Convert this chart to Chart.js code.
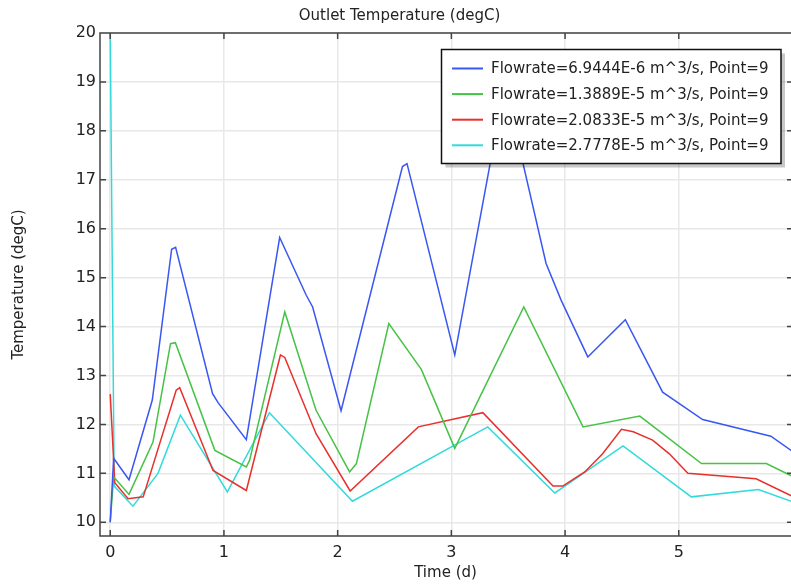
<!DOCTYPE html>
<html>
<head>
<meta charset="utf-8">
<title>Outlet Temperature</title>
<script src="https://cdn.jsdelivr.net/npm/chart.js@4.4.1/dist/chart.umd.min.js"></script>
<style>
    html, body { margin: 0; padding: 0; background: #ffffff; overflow: hidden; }
    #wrap { position: relative; width: 791px; height: 585px; }
</style>
</head>
<body>
<div id="wrap"><canvas id="lineChart"></canvas></div>
<script>
const seriesLabels = [
    'Flowrate=6.9444E-6 m^3/s, Point=9',
    'Flowrate=1.3889E-5 m^3/s, Point=9',
    'Flowrate=2.0833E-5 m^3/s, Point=9',
    'Flowrate=2.7778E-5 m^3/s, Point=9'
];
const seriesColors = ['#3a57f2', '#46c246', '#e8302c', '#33dada'];

// time (d) and outlet temperature (degC) for each flowrate
const timeBlue = [0, 0.03, 0.165, 0.37, 0.54, 0.575, 0.9, 0.95, 1.197, 1.49, 1.724, 1.78, 2.03, 2.57, 2.61, 3.03, 3.47, 3.833, 3.965, 4.2, 4.53, 4.858, 5.21, 5.81, 6.0];
const tempBlue = [10, 11.31, 10.87, 12.5, 15.58, 15.62, 12.63, 12.44, 11.69, 15.82, 14.64, 14.4, 12.28, 17.27, 17.33, 13.42, 18.95, 15.29, 14.54, 13.38, 14.14, 12.66, 12.1, 11.76, 11.45];

const timeGreen = [0, 0.03, 0.165, 0.376, 0.53, 0.573, 0.92, 1.197, 1.226, 1.535, 1.81, 2.105, 2.165, 2.45, 2.737, 3.03, 3.637, 4.158, 4.657, 5.2, 5.77, 6.0];
const tempGreen = [10, 10.93, 10.57, 11.64, 13.65, 13.67, 11.47, 11.13, 11.27, 14.3, 12.29, 11.03, 11.2, 14.06, 13.12, 11.51, 14.4, 11.95, 12.17, 11.2, 11.2, 10.94];

const timeRed = [0, 0.04, 0.157, 0.29, 0.58, 0.611, 0.904, 1.197, 1.497, 1.535, 1.81, 2.11, 2.71, 3.277, 3.894, 3.98, 4.173, 4.33, 4.496, 4.6, 4.77, 4.917, 5.08, 5.68, 6.0];
const tempRed = [12.62, 10.81, 10.48, 10.52, 12.7, 12.75, 11.06, 10.65, 13.42, 13.37, 11.81, 10.64, 11.95, 12.24, 10.74, 10.74, 11.03, 11.4, 11.9, 11.85, 11.68, 11.4, 11.0, 10.89, 10.53];

const timeCyan = [0, 0.035, 0.2, 0.42, 0.617, 1.03, 1.4, 2.13, 3.32, 3.91, 4.51, 5.11, 5.7, 6.0];
const tempCyan = [20, 10.74, 10.33, 11.0, 12.19, 10.62, 12.24, 10.43, 11.95, 10.6, 11.56, 10.52, 10.67, 10.42];

const xTicks = [0, 1, 2, 3, 4, 5];
const yTicks = [10, 11, 12, 13, 14, 15, 16, 17, 18, 19, 20];

const FONT = 'DejaVu Sans';
const AXIS_COLOR = '#444444';
const TEXT_COLOR = '#222222';

function toPoints(ts, vs) {
    return ts.map((t, i) => ({ x: t, y: vs[i] }));
}

// frame with inward ticks + boxed legend in the upper right
const framePlugin = {
    id: 'frameAndLegend',
    afterDraw(chart) {
        const c = chart.ctx;
        const a = chart.chartArea;
        const xs = chart.scales.x;
        const ys = chart.scales.y;
        c.save();
        c.strokeStyle = AXIS_COLOR;
        c.lineWidth = 1.5;
        c.beginPath();
        c.moveTo(a.right, a.top); c.lineTo(a.left, a.top);
        c.lineTo(a.left, a.bottom); c.lineTo(a.right, a.bottom);
        xTicks.forEach(v => {
            const px = xs.getPixelForValue(v);
            c.moveTo(px, a.bottom); c.lineTo(px, a.bottom - 6);
            c.moveTo(px, a.top); c.lineTo(px, a.top + 6);
        });
        yTicks.forEach(v => {
            const py = ys.getPixelForValue(v);
            c.moveTo(a.left, py); c.lineTo(a.left + 6, py);
            c.moveTo(a.right, py); c.lineTo(a.right - 4, py);
        });
        c.stroke();

        // legend box
        const bx = 441.5, by = 49.5, bw = 339.5, bh = 114;
        c.fillStyle = 'rgba(0,0,0,0.22)';
        c.fillRect(bx + 4, by + 4, bw, bh);
        c.fillStyle = '#ffffff';
        c.fillRect(bx, by, bw, bh);
        c.strokeStyle = '#111111';
        c.lineWidth = 1.5;
        c.strokeRect(bx, by, bw, bh);
        c.font = '15px "' + FONT + '"';
        c.textBaseline = 'middle';
        c.textAlign = 'left';
        chart.data.datasets.forEach((ds, i) => {
            const ry = 68.5 + i * 25.6;
            c.strokeStyle = ds.borderColor;
            c.lineWidth = 2;
            c.beginPath();
            c.moveTo(452, ry); c.lineTo(483, ry);
            c.stroke();
            c.fillStyle = TEXT_COLOR;
            c.fillText(ds.label, 491, ry + 1);
        });
        c.restore();
    }
};

document.addEventListener('DOMContentLoaded', function() {
    const ctx = document.getElementById('lineChart');
    const series = [
        toPoints(timeBlue, tempBlue),
        toPoints(timeGreen, tempGreen),
        toPoints(timeRed, tempRed),
        toPoints(timeCyan, tempCyan)
    ];

    new Chart(ctx.getContext('2d'), {
        type: 'line',
        data: {
            datasets: series.map((pts, i) => ({
                label: seriesLabels[i],
                data: pts,
                borderColor: seriesColors[i],
                backgroundColor: seriesColors[i],
                borderWidth: 1.5,
                pointRadius: 0,
                tension: 0,
                fill: false
            }))
        },
        options: {
            responsive: true,
            maintainAspectRatio: false,
            animation: false,
            devicePixelRatio: 1,
            layout: { padding: { left: 8, right: 0, top: 0, bottom: 0 } },
            plugins: {
                legend: { display: false },
                tooltip: { enabled: false },
                title: {
                    display: true,
                    text: 'Outlet Temperature (degC)',
                    color: TEXT_COLOR,
                    font: { family: FONT, size: 15, weight: 'normal' },
                    padding: { top: 7, bottom: 8 }
                }
            },
            scales: {
                x: {
                    type: 'linear',
                    min: -0.09,
                    max: 5.987,
                    afterBuildTicks: s => { s.ticks = xTicks.map(v => ({ value: v })); },
                    afterFit: s => { s.height = 49; },
                    border: { display: false },
                    grid: { color: '#e8e8e8', lineWidth: 1.5, drawTicks: false },
                    ticks: {
                        color: TEXT_COLOR,
                        font: { family: FONT, size: 16 },
                        padding: 7,
                        maxRotation: 0,
                        autoSkip: false
                    },
                    title: {
                        display: true,
                        text: 'Time (d)',
                        color: TEXT_COLOR,
                        font: { family: FONT, size: 15 },
                        padding: { top: 0, bottom: 3 }
                    }
                },
                y: {
                    min: 9.72,
                    max: 20,
                    afterBuildTicks: s => { s.ticks = yTicks.map(v => ({ value: v })); },
                    afterFit: s => { s.width = 92; },
                    border: { display: false },
                    grid: { color: '#e8e8e8', lineWidth: 1.5, drawTicks: false },
                    ticks: {
                        color: TEXT_COLOR,
                        font: { family: FONT, size: 16 },
                        padding: 4,
                        autoSkip: false
                    },
                    title: {
                        display: true,
                        text: 'Temperature (degC)',
                        color: TEXT_COLOR,
                        font: { family: FONT, size: 15 },
                        padding: { top: 2, bottom: 0 }
                    }
                }
            }
        },
        plugins: [framePlugin]
    });
});
</script>
</body>
</html>
